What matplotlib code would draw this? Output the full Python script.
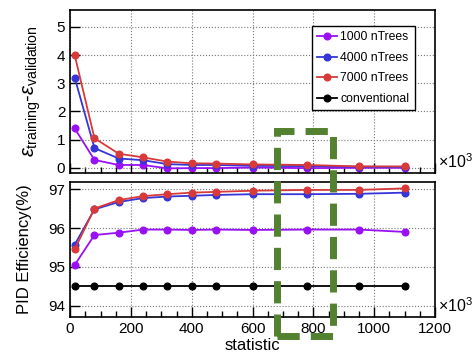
import matplotlib
matplotlib.use('Agg')
import matplotlib.pyplot as plt
from matplotlib.patches import Rectangle
from matplotlib.ticker import MultipleLocator

plt.rcParams['font.family'] = ['Liberation Sans', 'DejaVu Sans']
plt.rcParams['mathtext.fontset'] = 'custom'
plt.rcParams['mathtext.rm'] = 'Liberation Sans'
plt.rcParams['mathtext.it'] = 'Liberation Sans:italic'

# statistic (x10^3)
statistic = [15, 80, 160, 240, 320, 400, 480, 600, 780, 950, 1100]

# overtraining: eps_training - eps_validation
diff_1000 = [1.4, 0.28, 0.10, 0.10, -0.02, -0.01, -0.01, 0.01, -0.01, 0.0, 0.0]
diff_4000 = [3.2, 0.70, 0.33, 0.27, 0.13, 0.10, 0.10, 0.07, 0.06, 0.04, 0.03]
diff_7000 = [4.0, 1.05, 0.50, 0.37, 0.22, 0.16, 0.15, 0.12, 0.10, 0.05, 0.05]

# PID efficiency (%)
eff_1000 = [95.05, 95.82, 95.88, 95.96, 95.96, 95.95, 95.96, 95.95, 95.96, 95.96, 95.90]
eff_4000 = [95.57, 96.48, 96.67, 96.77, 96.81, 96.83, 96.85, 96.87, 96.87, 96.88, 96.91]
eff_7000 = [95.45, 96.50, 96.72, 96.82, 96.87, 96.91, 96.93, 96.96, 96.98, 96.98, 97.02]
eff_conv = [94.5] * len(statistic)

labels = ['1000 nTrees', '4000 nTrees', '7000 nTrees', 'conventional']
colors = ['#9a10f5', '#3535d8', '#d83a3a', '#000000']

fig = plt.figure(figsize=(4.77, 3.55), dpi=100)
ax1 = fig.add_axes([0.147, 0.513, 0.765, 0.459])
ax2 = fig.add_axes([0.147, 0.108, 0.765, 0.380])

def style(ax):
    ax.set_xlim(0, 1200)
    ax.xaxis.set_major_locator(MultipleLocator(200))
    ax.xaxis.set_minor_locator(MultipleLocator(50))
    ax.tick_params(which='both', direction='in', labelsize=11)
    ax.tick_params(which='major', length=7, width=1)
    ax.tick_params(which='minor', length=4, width=1)
    ax.grid(True, which='major', linestyle=':', color='#777777', linewidth=0.8)
    for s in ax.spines.values():
        s.set_linewidth(1.2)
    ax.annotate(r'$\times$10$^3$', xy=(1, 0), xycoords='axes fraction',
                xytext=(2, 8), textcoords='offset points',
                fontsize=11.5, va='center', ha='left')

mk = dict(marker='o', markersize=4.8, linewidth=1.3)

# top panel
for y, c, l in zip([diff_1000, diff_4000, diff_7000], colors[:3], labels[:3]):
    ax1.plot(statistic, y, color=c, label=l, **mk)
ax1.plot([], [], color=colors[3], label=labels[3], **mk)
style(ax1)
ax1.set_ylim(-0.18, 5.6)
ax1.yaxis.set_major_locator(MultipleLocator(1))
ax1.tick_params(labelbottom=False)
ax1.set_ylabel(r'$\varepsilon_{\rm training}$-$\varepsilon_{\rm validation}$',
               fontsize=14.5, labelpad=10)
leg = ax1.legend(loc='upper left', bbox_to_anchor=(0.645, 0.94), fontsize=8.8,
                 fancybox=False, edgecolor='black', framealpha=1,
                 handlelength=1.6, handletextpad=0.3, labelspacing=0.7,
                 borderpad=0.45)
leg.get_frame().set_linewidth(1.0)

# bottom panel
for y, c in zip([eff_1000, eff_4000, eff_7000, eff_conv], colors):
    ax2.plot(statistic, y, color=c, **mk)
style(ax2)
ax2.set_ylim(93.72, 97.19)
ax2.yaxis.set_major_locator(MultipleLocator(1))
ax2.set_ylabel('PID Efficiency(%)', fontsize=12, labelpad=12)
ax2.set_xlabel('statistic', fontsize=12, labelpad=2)

# green dashed highlight box spanning both panels
W, H = 477, 355
x0, x1, ytop, ybot = 277, 333, 131, 336
rect = Rectangle((x0 / W, 1 - ybot / H), (x1 - x0) / W, (ybot - ytop) / H,
                 transform=fig.transFigure, fill=False, edgecolor='#52812f',
                 linewidth=5, linestyle=(0, (3.2, 1.6)), zorder=10)
fig.add_artist(rect)

fig.savefig('out.png', dpi=100)
